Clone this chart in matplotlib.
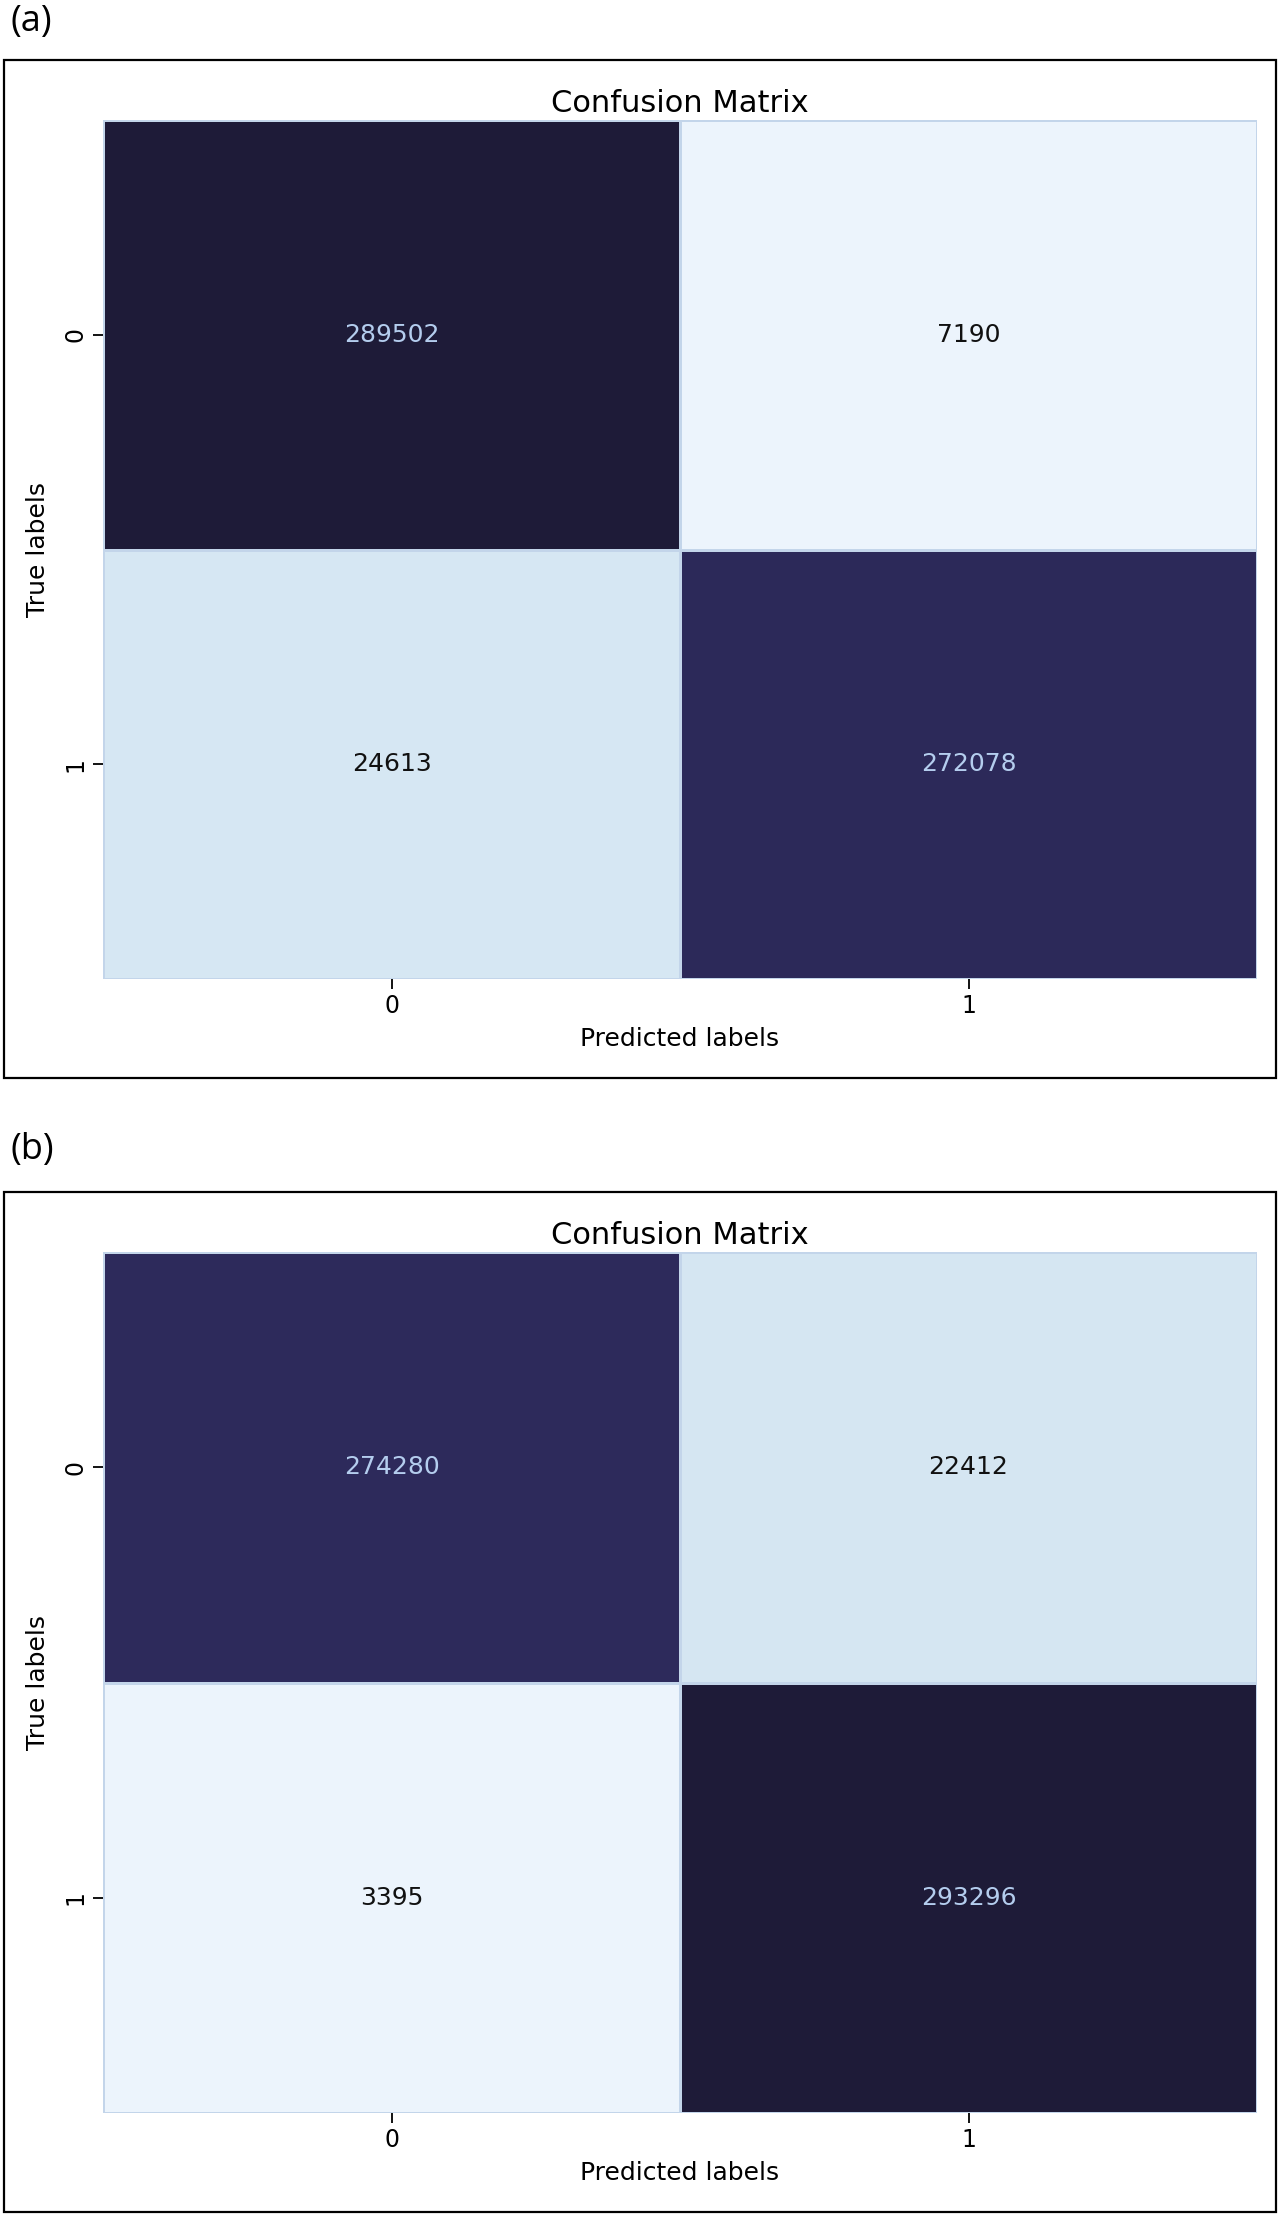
"""Two confusion-matrix heatmaps, stacked, each inside a framed panel."""
import matplotlib
matplotlib.use("Agg")
import matplotlib.pyplot as plt
import numpy as np
import seaborn as sns
from matplotlib.colors import LinearSegmentedColormap, Normalize
from matplotlib.patches import Rectangle

# --- data -------------------------------------------------------------
class_labels = ["0", "1"]
panel_names = ["(a)", "(b)"]
cm_a = [[289502, 7190],
        [24613, 272078]]
cm_b = [[274280, 22412],
        [3395, 293296]]

# --- style ------------------------------------------------------------
CMAP = LinearSegmentedColormap.from_list(
    "cm_blues",
    [(0.0, "#ecf4fc"), (0.065, "#d4e6f2"), (0.5, "#7f95c2"),
     (0.935, "#2e2b5c"), (1.0, "#1e1b38")],
)
W, H = 1280, 2214

# pixel boxes: (left, top, right, bottom)
AX_BOX = [(103, 120, 1257, 979), (103, 1252, 1257, 2113)]
FRAME_BOX = [(4, 60, 1276, 1078), (4, 1192, 1276, 2212)]
LABEL_Y = [22, 1150]


def fx(px):
    return px / W


def fy(py):
    return 1 - py / H


fig = plt.figure(figsize=(W / 100, H / 100), dpi=100)

for cm, name, axb, frb, ly in zip([cm_a, cm_b], panel_names, AX_BOX, FRAME_BOX, LABEL_Y):
    cm = np.array(cm)
    l, t, r, b = axb
    ax = fig.add_axes([fx(l), fy(b), fx(r - l), (b - t) / H])
    norm = Normalize(vmin=cm.min(), vmax=cm.max())
    sns.heatmap(cm, cmap=CMAP, norm=norm, cbar=False, linewidths=0.8,
                linecolor="#c3d5ea", ax=ax)
    for i in range(cm.shape[0]):
        for j in range(cm.shape[1]):
            v = cm[i, j]
            col = "#b4cdee" if norm(v) > 0.5 else "#111111"
            ax.text(j + 0.5, i + 0.5, f"{v}", ha="center", va="center",
                    fontsize=18, color=col)
    ax.set_xticks(np.arange(len(class_labels)) + 0.5)
    ax.set_yticks(np.arange(len(class_labels)) + 0.5)
    ax.set_xticklabels(class_labels, fontsize=17)
    ax.set_yticklabels(class_labels, fontsize=17, rotation=90, va="center")
    ax.tick_params(length=7, width=1.3, pad=4)
    ax.set_xlabel("Predicted labels", fontsize=18, labelpad=6)
    ax.set_ylabel("True labels", fontsize=18, labelpad=10)
    ax.set_title("Confusion Matrix", fontsize=22, pad=6)

    fl, ft, fr, fb = frb
    fig.patches.append(Rectangle((fx(fl), fy(fb)), fx(fr - fl), (fb - ft) / H,
                                 transform=fig.transFigure, fill=False,
                                 edgecolor="black", linewidth=1.6))
    fig.text(fx(10), fy(ly), name, fontsize=26, family="Open Sans",
             ha="left", va="center")

fig.savefig("out.png", dpi=100)
